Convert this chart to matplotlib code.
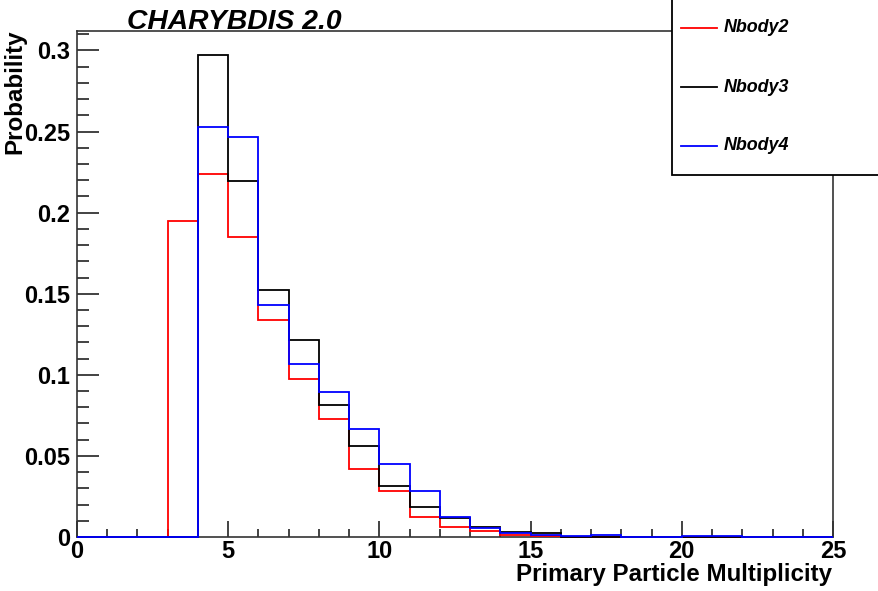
import matplotlib
matplotlib.use("Agg")
import matplotlib.pyplot as plt
import numpy as np
from matplotlib.patches import Rectangle
from matplotlib.lines import Line2D

# ---- data ----
edges = list(range(0, 26))
nbody2 = [0, 0, 0, 0.195, 0.224, 0.185, 0.134, 0.0975, 0.073, 0.042, 0.0285, 0.0125,
          0.006, 0.0035, 0.0014, 0.0005, 0.0003, 0, 0, 0, 0, 0, 0, 0, 0]
nbody3 = [0, 0, 0, 0, 0.297, 0.2196, 0.1524, 0.1213, 0.0813, 0.056, 0.0315, 0.0182,
          0.012, 0.006, 0.0029, 0.0023, 0.0003, 0, 0, 0, 0, 0, 0, 0, 0]
nbody4 = [0, 0, 0, 0, 0.253, 0.2467, 0.1432, 0.1068, 0.0895, 0.0664, 0.0449, 0.0285,
          0.0121, 0.0053, 0.0025, 0.0015, 0.0004, 0.0014, 0, 0, 0.0005, 0.0005, 0, 0, 0]
series = [("Nbody2", nbody2, "#ff0000"), ("Nbody3", nbody3, "#000000"), ("Nbody4", nbody4, "#0000ff")]
xticks = [0, 5, 10, 15, 20, 25]
yticks = [0, 0.05, 0.1, 0.15, 0.2, 0.25, 0.3]
ytick_labels = ["0", "0.05", "0.1", "0.15", "0.2", "0.25", "0.3"]

plt.rcParams['font.family'] = ['Liberation Sans', 'DejaVu Sans']
W, H = 879, 591
fig = plt.figure(figsize=(W / 100, H / 100), dpi=100)
ax = fig.add_axes([77 / W, (H - 537) / H, (833 - 77) / W, (537 - 31) / H])

for name, vals, col in series:
    ax.stairs(vals, edges, color=col, lw=1.3, baseline=0, zorder=3, clip_on=False)

ax.set_xlim(0, 25)
ax.set_ylim(0, 0.312)
ax.set_xticks(xticks)
ax.set_xticklabels([str(t) for t in xticks], fontsize=17, fontweight='bold')
ax.set_yticks(yticks)
ax.set_yticklabels(ytick_labels, fontsize=17, fontweight='bold')
ax.set_xticks(np.arange(0, 26, 1), minor=True)
ax.set_yticks(np.arange(0, 0.311, 0.01), minor=True)
ax.tick_params(axis='x', which='major', direction='in', length=11.5, width=1.2, pad=2, color='#222222')
ax.tick_params(axis='x', which='minor', direction='in', length=5.8, width=1.2, color='#222222')
ax.tick_params(axis='y', which='major', direction='in', length=16, width=1.2, pad=5, color='#222222')
ax.tick_params(axis='y', which='minor', direction='in', length=8.5, width=1.2, color='#222222')
for s in ax.spines.values():
    s.set_color('#333333')
    s.set_linewidth(1.2)
    s.set_zorder(2)

# axis titles
fig.text(832 / W, (H - 575) / H, "Primary Particle Multiplicity", ha='right', va='center',
         fontsize=17.4, fontweight='bold')
fig.text(15 / W, (H - 30) / H, "Probability", ha='center', va='top', rotation=90,
         fontsize=17.4, fontweight='bold')
# title
fig.text(127 / W, (H - 29) / H, "CHARYBDIS 2.0", ha='left', va='baseline',
         fontsize=20.3, fontweight='bold', fontstyle='italic')

# legend box
rect = Rectangle((672 / W, (H - 175) / H), (890 - 672) / W, 200 / H, transform=fig.transFigure,
                 facecolor='white', edgecolor='black', lw=1.3, clip_on=False, zorder=5)
fig.add_artist(rect)
for i, (name, vals, col) in enumerate(series):
    yy = (H - (28 + 59 * i)) / H
    fig.add_artist(Line2D([681 / W, 717 / W], [yy, yy], color=col, lw=1.3,
                          transform=fig.transFigure, zorder=6))
    fig.text(724 / W, yy, name, ha='left', va='center', fontsize=12.9,
             fontweight='bold', fontstyle='italic', zorder=6)

fig.savefig("out.png", dpi=100)
